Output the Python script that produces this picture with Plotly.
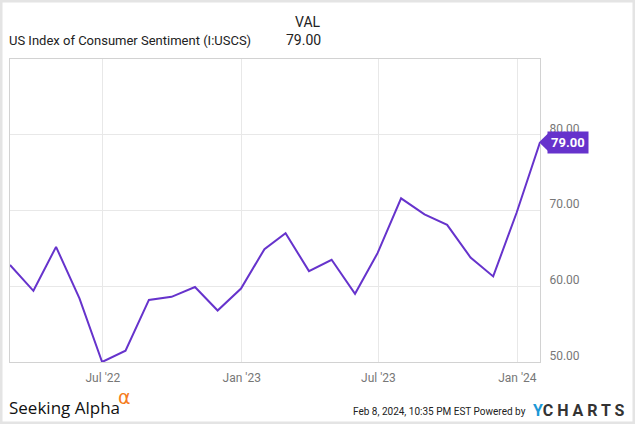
import plotly.graph_objects as go
import pandas as pd

# ---- data ----
months = pd.date_range("2022-02-28", "2024-01-31", freq="ME").strftime("%Y-%m-%d").tolist()
sentiment = [62.8, 59.4, 65.2, 58.4, 50.0, 51.5, 58.2, 58.6, 59.9, 56.8, 59.7,
             64.9, 67.0, 62.0, 63.5, 59.0, 64.4, 71.6, 69.5, 68.1, 63.8, 61.3, 69.7,
             79.0]
x_tick_vals = ["2022-07-01", "2023-01-01", "2023-07-01", "2024-01-01"]
x_tick_text = ["Jul '22", "Jan '23", "Jul '23", "Jan '24"]
y_tick_vals = [50, 60, 70, 80]
series_name = "US Index of Consumer Sentiment (I:USCS)"

W, H = 635, 424
L, R, T, B = 10, 95, 59, 62
PW, PH = W - L - R, H - T - B

def px(x):
    return (x - L) / PW

def py(y):
    return (H - B - y) / PH

PURPLE = "#6633cc"
GRID = "#e8e8e8"
FRAME = "#d2d2d2"
FONT = "Roboto"

fig = go.Figure()
fig.add_trace(go.Scatter(x=months, y=sentiment, mode="lines",
                         line=dict(color=PURPLE, width=2), hoverinfo="x+y",
                         showlegend=False))

fig.update_layout(
    width=W, height=H,
    margin=dict(l=L, r=R, t=T, b=B),
    paper_bgcolor="white", plot_bgcolor="white",
    font=dict(family=FONT, color="#666666", size=12),
    xaxis=dict(range=[months[0], months[-1]], tickvals=x_tick_vals, ticktext=x_tick_text,
               showgrid=True, gridcolor=GRID, gridwidth=1,
               showline=True, linecolor=FRAME, linewidth=1, mirror=True,
               ticks="", ticklabelstandoff=5,
               tickfont=dict(size=12, color="#777777"), zeroline=False),
    yaxis=dict(range=[50, 90], tickvals=y_tick_vals, tickformat=".2f", side="right",
               showgrid=True, gridcolor=GRID, gridwidth=1,
               showline=True, linecolor=FRAME, linewidth=1, mirror=True,
               ticks="", ticklabelposition="outside top", ticklabelstandoff=6,
               ticklabelshift=2,
               tickfont=dict(size=12, color="#777777"), zeroline=False),
)

last = sentiment[-1]
ann = []
# header
ann.append(dict(xref="paper", yref="paper", x=px(7), y=py(40), xanchor="left", yanchor="middle",
                text=series_name, showarrow=False, font=dict(size=13, color="#222222", family=FONT)))
ann.append(dict(xref="paper", yref="paper", x=px(323), y=py(22), xanchor="right", yanchor="middle",
                text="VAL", showarrow=False, font=dict(size=14, color="#222222", family=FONT)))
ann.append(dict(xref="paper", yref="paper", x=px(323), y=py(40), xanchor="right", yanchor="middle",
                text=f"{last:.2f}", showarrow=False, font=dict(size=14, color="#222222", family=FONT)))
# last value tag
ann.append(dict(xref="paper", yref="y", x=px(547), y=last, xanchor="left", yanchor="middle",
                text=f"<b>{last:.2f}</b>", showarrow=False, bgcolor=PURPLE, borderpad=3,
                font=dict(size=13, color="white", family=FONT)))
# footer
ann.append(dict(xref="paper", yref="paper", x=px(7), y=py(407), xanchor="left", yanchor="middle",
                text="Seeking Alpha", showarrow=False,
                font=dict(size=17, color="#111111", family="Open Sans")))
ann.append(dict(xref="paper", yref="paper", x=px(116), y=py(397), xanchor="left", yanchor="middle",
                text="\u03b1", showarrow=False,
                font=dict(size=19, color="#f57c20", family="DejaVu Sans")))
ann.append(dict(xref="paper", yref="paper", x=px(528), y=py(411), xanchor="right", yanchor="middle",
                text="Feb 8, 2024, 10:35 PM EST Powered by", showarrow=False,
                font=dict(size=10, color="#222222", family="Roboto")))
ann.append(dict(xref="paper", yref="paper", x=px(531), y=py(410), xanchor="left", yanchor="middle",
                text="<b><span style='color:#1c98d6'>Y</span>C H A R T S</b>", showarrow=False,
                font=dict(size=16, color="#333333", family="Roboto")))
fig.update_layout(annotations=ann)

# arrow tip of last value tag + outer border
tip_h = 1.15
fig.update_layout(shapes=[
    dict(type="path", xref="paper", yref="y",
         path=f"M {px(539)} {last} L {px(548)} {last + tip_h} L {px(548)} {last - tip_h} Z",
         fillcolor=PURPLE, line=dict(width=0)),
    dict(type="rect", xref="paper", yref="paper", x0=px(1), x1=px(W - 1), y0=py(H - 1), y1=py(1),
         line=dict(color="#e4e4e4", width=3), fillcolor="rgba(0,0,0,0)"),
])

fig.write_html("out.html", config={"displayModeBar": False},
               post_script="document.body.style.margin='0';document.body.style.padding='0';")
